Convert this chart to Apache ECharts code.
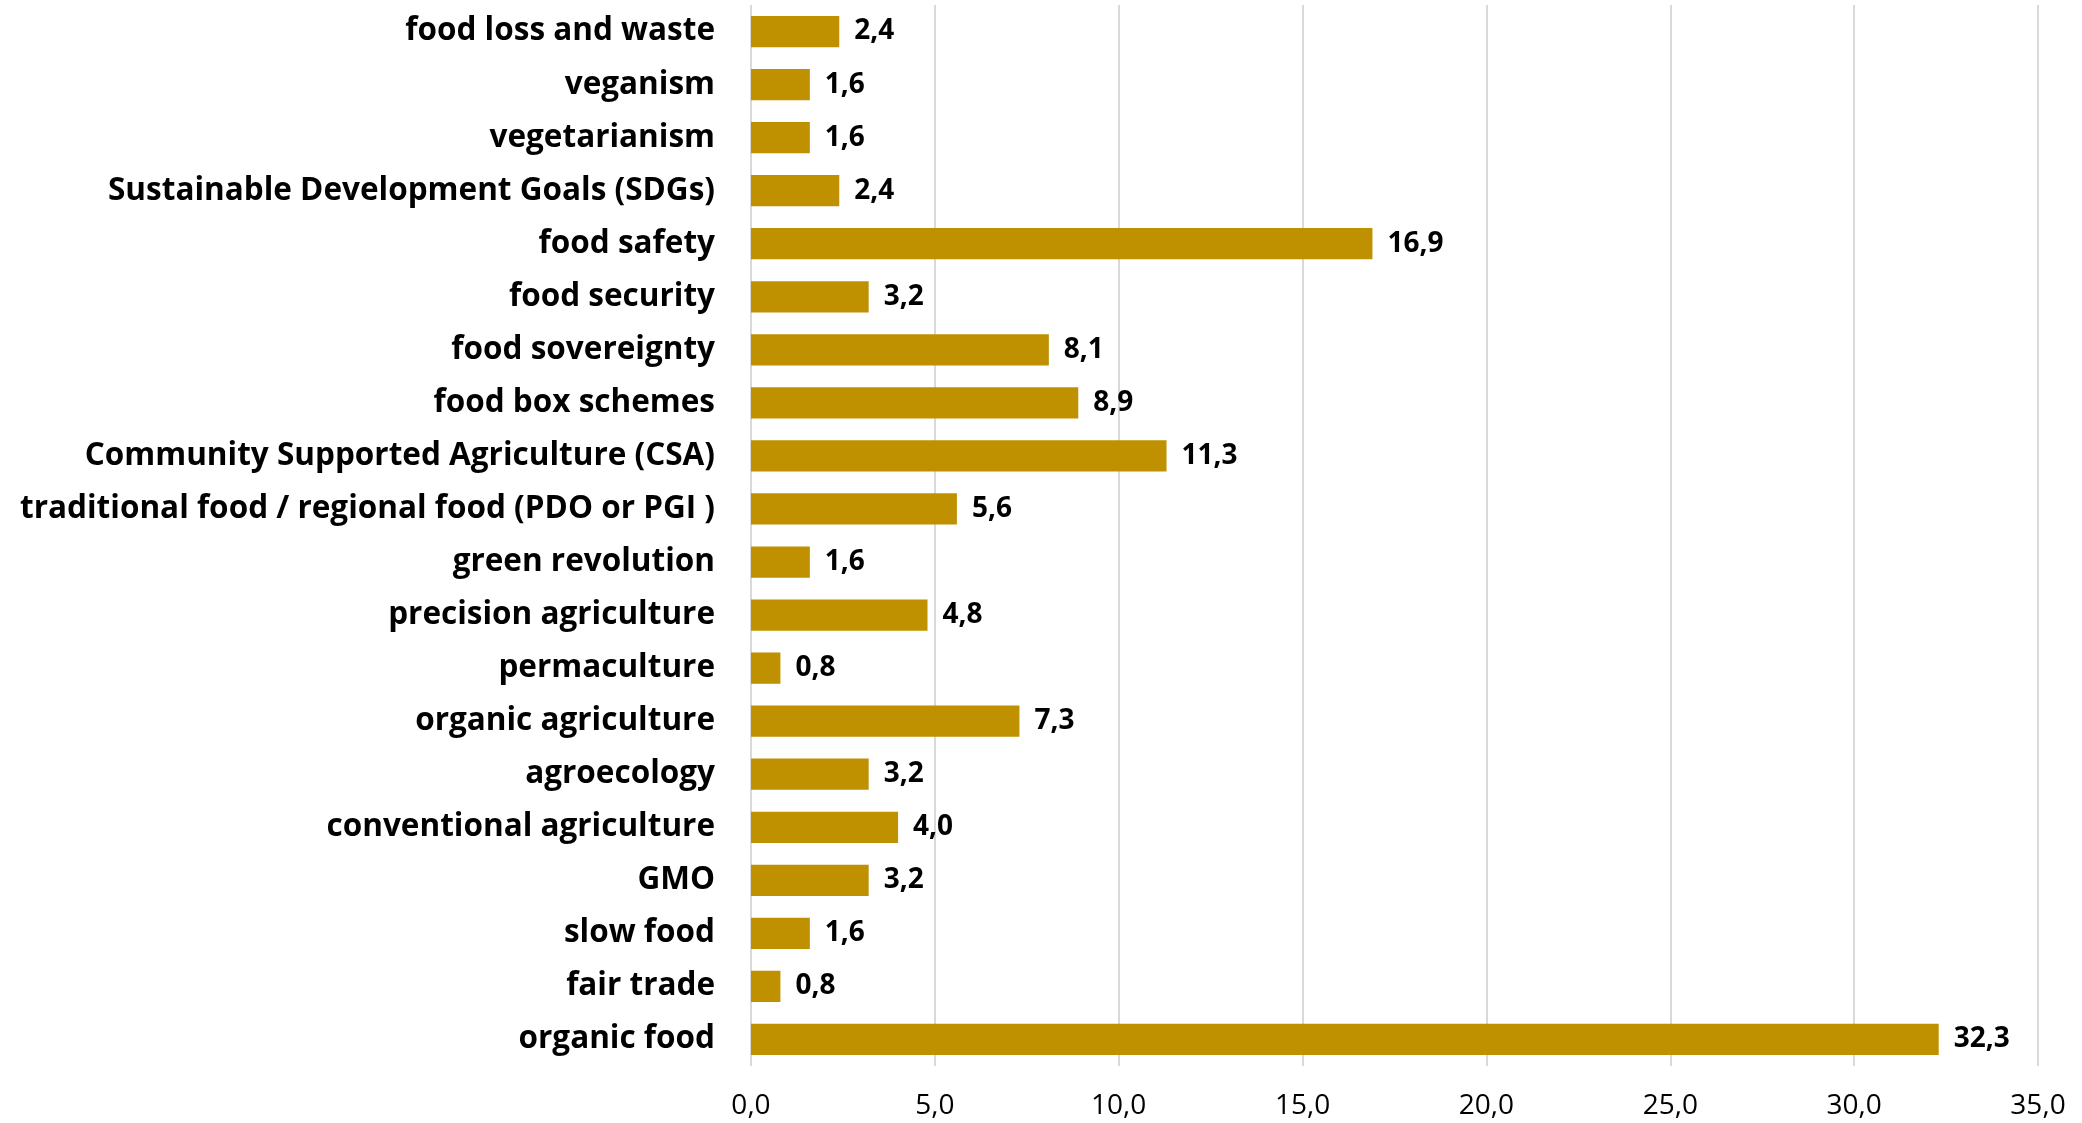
<!DOCTYPE html>
<html>
<head>
<meta charset="utf-8">
<script src="https://cdn.jsdelivr.net/npm/echarts@6/dist/echarts.min.js"></script>
<style>
  html, body { margin: 0; padding: 0; background: #fff; }
  #bar { width: 2082px; height: 1123px; }
</style>
</head>
<body>
<div class="bar" id="bar"></div>
<script>
// categories, top to bottom as in the picture
const categories = [
  'food loss and waste',
  'veganism',
  'vegetarianism',
  'Sustainable Development Goals (SDGs)',
  'food safety',
  'food security',
  'food sovereignty',
  'food box schemes',
  'Community Supported Agriculture (CSA)',
  'traditional food / regional food (PDO or PGI )',
  'green revolution',
  'precision agriculture',
  'permaculture',
  'organic agriculture',
  'agroecology',
  'conventional agriculture',
  'GMO',
  'slow food',
  'fair trade',
  'organic food'
]
const values = [2.4, 1.6, 1.6, 2.4, 16.9, 3.2, 8.1, 8.9, 11.3, 5.6, 1.6, 4.8, 0.8, 7.3, 3.2, 4.0, 3.2, 1.6, 0.8, 32.3]
const xTicks = [0, 5, 10, 15, 20, 25, 30, 35]

const fmt = v => Number(v).toFixed(1).replace('.', ',')
const fontFamily = '"Open Sans", Lato, sans-serif'

let barBox = echarts.init(document.getElementById('bar'))
let option = {
  animation: false,
  grid: {
    left: 751,
    right: 44,
    top: 5,
    bottom: 57
  },
  xAxis: {
    type: 'value',
    min: xTicks[0],
    max: xTicks[xTicks.length - 1],
    interval: xTicks[1] - xTicks[0],
    axisLine: { show: false },
    axisTick: { show: false },
    splitLine: {
      show: true,
      lineStyle: { color: '#d9d9d9', width: 2 }
    },
    axisLabel: {
      margin: 26,
      color: '#000',
      fontSize: 28,
      fontFamily: fontFamily,
      formatter: fmt
    }
  },
  yAxis: {
    type: 'category',
    data: categories,
    inverse: true,
    axisLine: { show: false },
    axisTick: { show: false },
    axisLabel: {
      margin: 36,
      color: '#000',
      fontSize: 31.5,
      fontWeight: 'bold',
      fontFamily: fontFamily,
      padding: [6, 0, 0, 0]
    }
  },
  series: [
    {
      type: 'bar',
      data: values,
      barCategoryGap: '41%',
      itemStyle: { color: '#BF9000' },
      label: {
        show: true,
        position: 'right',
        distance: 15,
        color: '#000',
        fontSize: 28,
        fontWeight: 'bold',
        fontFamily: fontFamily,
        padding: [7, 0, 0, 0],
        formatter: p => fmt(p.value)
      }
    }
  ]
}
barBox.setOption(option, true)
</script>
</body>
</html>
